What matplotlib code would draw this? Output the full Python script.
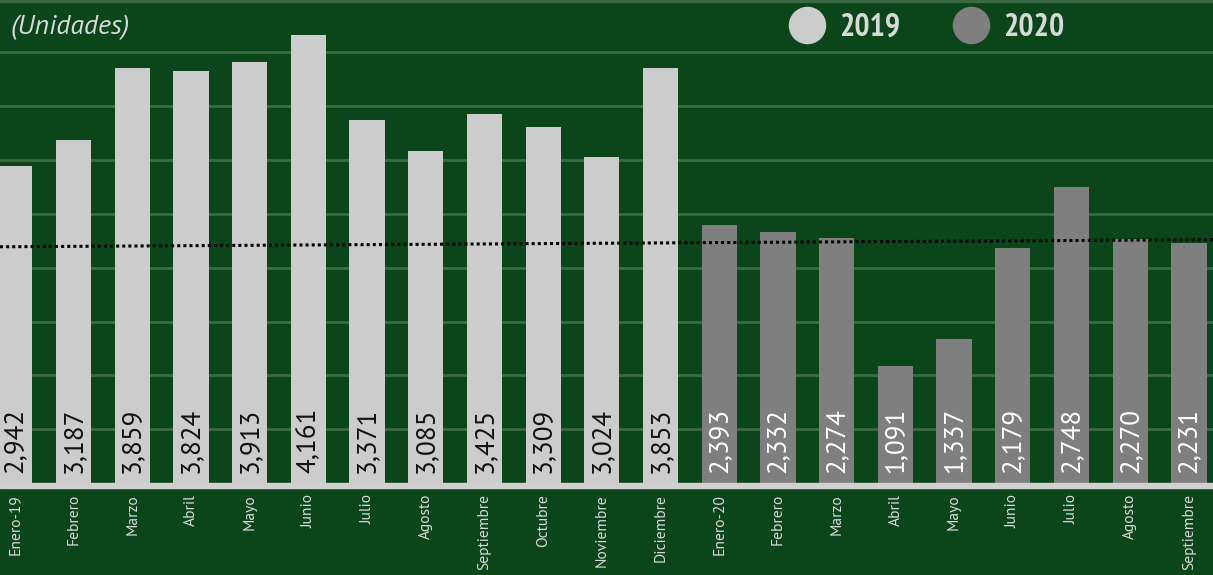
import numpy as np
import matplotlib.pyplot as plt
from matplotlib.lines import Line2D
from matplotlib.patches import Rectangle

plt.rcParams['font.family'] = ['PT Sans', 'Fira Sans', 'DejaVu Sans']

months = ["Enero-19", "Febrero", "Marzo", "Abril", "Mayo", "Junio", "Julio", "Agosto",
          "Septiembre", "Octubre", "Noviembre", "Diciembre",
          "Enero-20", "Febrero", "Marzo", "Abril", "Mayo", "Junio", "Julio", "Agosto",
          "Septiembre"]
v2019 = [2942, 3187, 3859, 3824, 3913, 4161, 3371, 3085, 3425, 3309, 3024, 3853]
v2020 = [2393, 2332, 2274, 1091, 1337, 2179, 2748, 2270, 2231]
trend_ends = [2194, 2260]  # dotted reference line, left and right edge

bg = "#0a4619"
grid = "#3a6a44"
c19 = "#cccccc"
c20 = "#7f7f7f"
txt = "#d9d9d9"

fig = plt.figure(figsize=(12.13, 5.75), dpi=100)
fig.patch.set_facecolor(bg)
ax = fig.add_axes([0, 92 / 575, 1, 484.5 / 575])
ax.set_facecolor(bg)

x19 = np.arange(len(v2019))
x20 = np.arange(len(v2019), len(v2019) + len(v2020))
b1 = ax.bar(x19, v2019, width=0.6, color=c19, zorder=2)
b2 = ax.bar(x20, v2020, width=0.6, color=c20, zorder=2)

for rects, col in ((b1, "#111111"), (b2, "white")):
    for r in rects:
        ax.annotate(f"{int(r.get_height()):,}", (r.get_x() + r.get_width() / 2, 0),
                    xytext=(0, 10), textcoords="offset pixels", rotation=90,
                    ha="center", va="bottom", fontsize=19.5, color=col, zorder=3)

xl = (-0.252, 20.41)
ax.set_xlim(xl)
ax.set_ylim(0, 4500)
ax.plot(xl, trend_ends, color="black", linestyle=(0, (1, 1)), linewidth=2.2, zorder=4)

ax.set_yticks(np.arange(500, 4501, 500))
ax.yaxis.grid(True, color=grid, linewidth=2, zorder=0)
ax.set_axisbelow(True)
ax.tick_params(axis="y", left=False, labelleft=False)
ax.set_xticks(np.arange(len(months)))
ax.set_xticklabels(months, rotation=90, fontsize=11.2, color=txt, va="top")
ax.tick_params(axis="x", length=0, pad=8)
for s in ax.spines.values():
    s.set_visible(False)

fig.patches.append(Rectangle((0, (575 - 487.7) / 575), 1, 4.4 / 575,
                             transform=fig.transFigure, color="#d0d0d0"))
fig.patches.append(Rectangle((0, 1 - 2 / 575), 1, 2 / 575,
                             transform=fig.transFigure, color=grid))

fig.text(10 / 1213, 1 - 27 / 575, "(Unidades)", fontsize=20, style="italic",
         color=txt, va="center", ha="left")

handles = [Line2D([], [], linestyle="none", marker="o", markersize=26,
                  markerfacecolor=c, markeredgecolor=c) for c in (c19, c20)]
leg = ax.legend(handles, ["2019", "2020"], ncol=2, frameon=False,
                loc="center right", bbox_to_anchor=(1064 / 1213, (484.5 - 29.5) / 484.5),
                borderaxespad=0, borderpad=0, handlelength=1.2, handletextpad=0.4,
                columnspacing=1.6,
                prop={"family": ["PT Sans Narrow", "PT Sans"], "weight": "bold", "size": 23})
for t in leg.get_texts():
    t.set_color(txt)

fig.savefig("out.png", dpi=100, facecolor=bg)
